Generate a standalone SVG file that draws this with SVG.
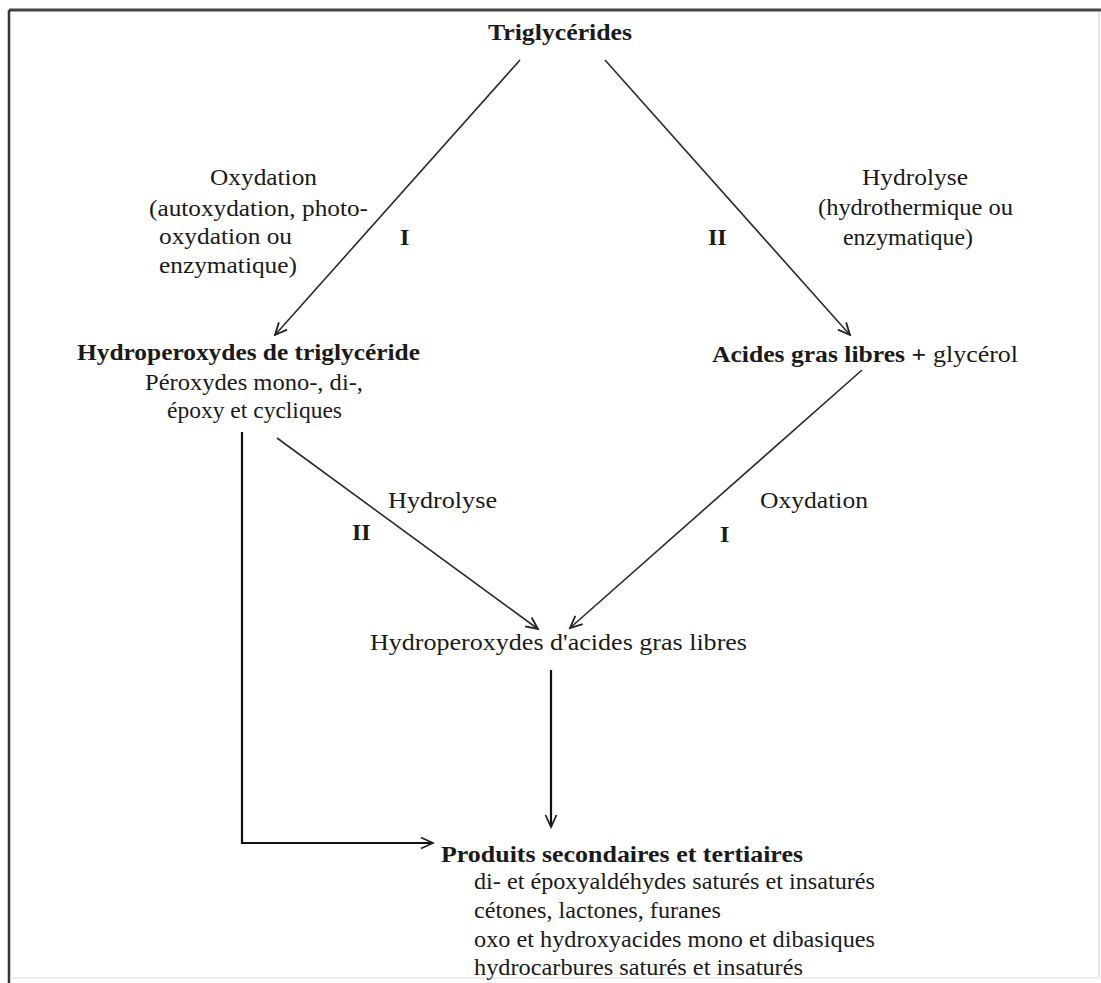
<svg xmlns="http://www.w3.org/2000/svg" width="1101" height="983" viewBox="0 0 1101 983">
<style>
text{font-family:"Liberation Serif","Times New Roman",serif;fill:#1a1a1a;font-size:24px}
.b{font-weight:bold}
.s{font-size:23px}
.ln{fill:none;stroke:#2a2a2a;stroke-width:1.6}
.lk{fill:none;stroke:#111;stroke-width:2.2}
</style>
<defs>
<marker id="arr" markerUnits="userSpaceOnUse" viewBox="0 0 16 14" markerWidth="16" markerHeight="14" refX="14" refY="7" orient="auto">
<path d="M2,1.5 L14,7 L2,12.5" fill="none" stroke="#222" stroke-width="1.8"/>
</marker>
</defs>
<rect x="0" y="0" width="1101" height="983" fill="#ffffff"/>
<g id="frame">
<line x1="9" y1="10" x2="1101" y2="10" stroke="#444" stroke-width="3"/>
<line x1="9" y1="10" x2="9" y2="983" stroke="#333" stroke-width="2.5"/>
<line x1="1099" y1="12" x2="1099" y2="978" stroke="#d8d8d8" stroke-width="1.5"/>
<line x1="10" y1="978" x2="1099" y2="978" stroke="#e6e6e6" stroke-width="1.5"/>
</g>
<g id="connectors">
<line class="ln" x1="520" y1="60" x2="275" y2="335" marker-end="url(#arr)"/>
<line class="ln" x1="605" y1="60" x2="850" y2="335" marker-end="url(#arr)"/>
<line class="ln" x1="277" y1="438" x2="538" y2="629" marker-end="url(#arr)"/>
<line class="ln" x1="862" y1="370" x2="570" y2="628" marker-end="url(#arr)"/>
<line class="lk" x1="551" y1="670" x2="551" y2="827" marker-end="url(#arr)"/>
<polyline class="lk" points="242,432 242,843 433,843" marker-end="url(#arr)"/>
</g>
<g id="edge-labels">
<text x="210" y="185" textLength="107" lengthAdjust="spacingAndGlyphs">Oxydation</text>
<text x="149" y="216" textLength="219" lengthAdjust="spacingAndGlyphs">(autoxydation, photo-</text>
<text x="159" y="244" textLength="133" lengthAdjust="spacingAndGlyphs">oxydation ou</text>
<text x="159" y="273" textLength="138" lengthAdjust="spacingAndGlyphs">enzymatique)</text>
<text class="b" x="400" y="245">I</text>
<text class="b" x="708" y="245">II</text>
<text x="862" y="185" textLength="106" lengthAdjust="spacingAndGlyphs">Hydrolyse</text>
<text x="818" y="215" textLength="195" lengthAdjust="spacingAndGlyphs">(hydrothermique ou</text>
<text x="843" y="245" textLength="130" lengthAdjust="spacingAndGlyphs">enzymatique)</text>
<text x="388" y="508" textLength="109" lengthAdjust="spacingAndGlyphs">Hydrolyse</text>
<text class="b" x="352" y="540">II</text>
<text x="760" y="508" textLength="108" lengthAdjust="spacingAndGlyphs">Oxydation</text>
<text class="b" x="720" y="542">I</text>
</g>
<g id="triglycerides">
<text class="b" x="488" y="40" textLength="144" lengthAdjust="spacingAndGlyphs">Triglycérides</text>
</g>
<g id="hydroperoxydes-triglyceride">
<text class="b" x="77" y="360" textLength="343" lengthAdjust="spacingAndGlyphs">Hydroperoxydes de triglycéride</text>
<text x="145" y="390" textLength="218" lengthAdjust="spacingAndGlyphs">Péroxydes mono-, di-,</text>
<text x="167" y="418" textLength="175" lengthAdjust="spacingAndGlyphs">époxy et cycliques</text>
</g>
<g id="acides-gras-libres">
<text class="b" x="712" y="362" textLength="214" lengthAdjust="spacingAndGlyphs">Acides gras libres +</text>
<text x="933" y="362" textLength="85" lengthAdjust="spacingAndGlyphs">glycérol</text>
</g>
<g id="hydroperoxydes-acides">
<text x="370" y="650" textLength="377" lengthAdjust="spacingAndGlyphs">Hydroperoxydes d'acides gras libres</text>
</g>
<g id="produits">
<text class="b" x="441" y="862" textLength="362" lengthAdjust="spacingAndGlyphs">Produits secondaires et tertiaires</text>
<text x="474" y="889" textLength="401" lengthAdjust="spacingAndGlyphs">di- et époxyaldéhydes saturés et insaturés</text>
<text x="474" y="918" textLength="247" lengthAdjust="spacingAndGlyphs">cétones, lactones, furanes</text>
<text x="474" y="947" textLength="401" lengthAdjust="spacingAndGlyphs">oxo et hydroxyacides mono et dibasiques</text>
<text x="474" y="975" textLength="329" lengthAdjust="spacingAndGlyphs">hydrocarbures saturés et insaturés</text>
</g>
</svg>
